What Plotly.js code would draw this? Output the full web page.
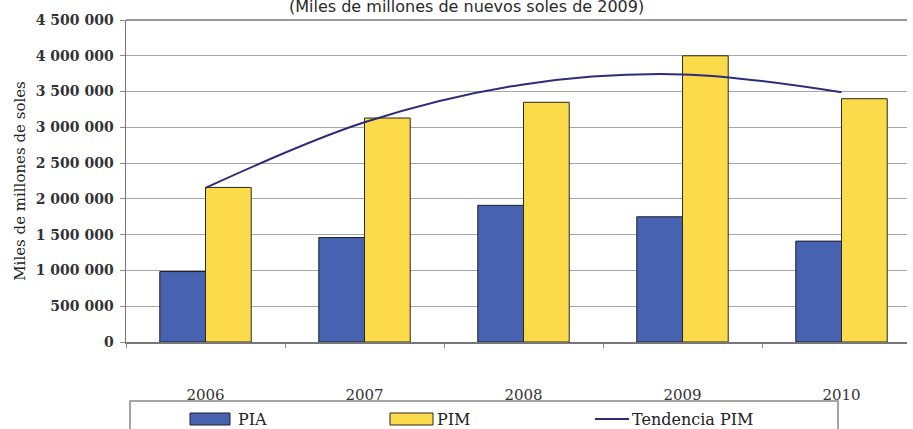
<!DOCTYPE html>
<html>
<head>
<meta charset="utf-8">
<script src="https://cdn.plot.ly/plotly-3.0.1.min.js"></script>
<style>html,body{margin:0;padding:0;background:#fff;}#chart{width:913px;height:429px;}</style>
</head>
<body>
<div id="chart"></div>
<script>
const years = ['2006', '2007', '2008', '2009', '2010'];
const pia = [985000, 1460000, 1910000, 1750000, 1410000];
const pim = [2160000, 3130000, 3350000, 4000000, 3400000];
const tendenciaPim = [2153000, 3070000, 3600000, 3740000, 3490000];
const seriesNames = ['PIA', 'PIM', 'Tendencia PIM'];
const titleText = '(Miles de millones de nuevos soles de 2009)';
const yTitle = 'Miles de millones de soles';

const L = 126, R = 6, T = 20, B = 87, W = 913, H = 429;
const pw = W - L - R, ph = H - T - B;
const xp = px => (px - L) / pw;
const yp = py => (H - B - py) / ph;

const blue = '#4762b0', yellow = '#fcdb4a', navy = '#2c2c78';
const serif = 'DejaVu Serif, Liberation Serif, serif';

const traces = [
  {type: 'bar', x: years, y: pia, name: seriesNames[0],
   marker: {color: blue, line: {color: '#1e1e2a', width: 1}}},
  {type: 'bar', x: years, y: pim, name: seriesNames[1],
   marker: {color: yellow, line: {color: '#2a2a1a', width: 1}}},
  {type: 'scatter', mode: 'lines', x: years, y: tendenciaPim, name: seriesNames[2],
   line: {color: navy, width: 2, shape: 'spline'}}
];

const shapes = [
  // top border
  {type: 'line', xref: 'paper', yref: 'paper', x0: 0, x1: 1, y0: 1, y1: 1, line: {color: '#777', width: 1.5}},
  // legend box
  {type: 'rect', xref: 'paper', yref: 'paper', x0: xp(130), x1: xp(838), y0: yp(401), y1: yp(445),
   line: {color: '#888', width: 1.5}, fillcolor: 'rgba(0,0,0,0)'},
  {type: 'rect', xref: 'paper', yref: 'paper', x0: xp(190), x1: xp(230), y0: yp(413), y1: yp(425),
   line: {color: '#1e1e2a', width: 1}, fillcolor: blue},
  {type: 'rect', xref: 'paper', yref: 'paper', x0: xp(390), x1: xp(433), y0: yp(413), y1: yp(425),
   line: {color: '#2a2a1a', width: 1}, fillcolor: yellow},
  {type: 'line', xref: 'paper', yref: 'paper', x0: xp(595), x1: xp(629), y0: yp(419), y1: yp(419),
   line: {color: navy, width: 2}}
];

const annotations = [
  {xref: 'paper', yref: 'paper', x: xp(466), y: yp(6), text: titleText, showarrow: false,
   xanchor: 'center', yanchor: 'middle', font: {family: 'DejaVu Sans, sans-serif', size: 16, color: '#2a2a2a'}},
  {xref: 'paper', yref: 'paper', x: xp(236), y: yp(419), text: seriesNames[0], showarrow: false,
   xanchor: 'left', yanchor: 'middle', font: {family: serif, size: 16, color: '#222'}},
  {xref: 'paper', yref: 'paper', x: xp(435), y: yp(419), text: seriesNames[1], showarrow: false,
   xanchor: 'left', yanchor: 'middle', font: {family: serif, size: 16, color: '#222'}},
  {xref: 'paper', yref: 'paper', x: xp(630), y: yp(419), text: seriesNames[2], showarrow: false,
   xanchor: 'left', yanchor: 'middle', font: {family: serif, size: 16, color: '#222'}}
];

const layout = {
  width: W, height: H,
  margin: {l: L, r: R, t: T, b: B, pad: 0},
  paper_bgcolor: '#fff', plot_bgcolor: '#fff',
  separators: ', ',
  showlegend: false,
  barmode: 'group', bargap: 0.425, bargroupgap: 0,
  xaxis: {
    type: 'category', range: [-0.5, -0.5 + pw / 159],
    showgrid: false, showline: true, linecolor: '#777', linewidth: 1.5,
    ticks: 'outside', tickson: 'boundaries', ticklen: 4, tickcolor: '#888',
    ticklabelstandoff: 38,
    tickfont: {family: serif, size: 15, color: '#333'}
  },
  yaxis: {
    range: [0, 4500000], dtick: 500000, tickformat: ',d',
    showgrid: true, gridcolor: '#a6a6a6', gridwidth: 1,
    showline: true, linecolor: '#777', linewidth: 1.5,
    ticks: 'outside', ticklen: 5, tickcolor: '#888',
    ticklabelstandoff: 3, zeroline: false,
    tickfont: {family: serif, size: 14, color: '#333', weight: 'bold'},
    title: {text: yTitle, standoff: 6, font: {family: serif, size: 15, color: '#222'}}
  },
  shapes: shapes,
  annotations: annotations
};

Plotly.newPlot('chart', traces, layout, {displayModeBar: false, staticPlot: true});
</script>
</body>
</html>
